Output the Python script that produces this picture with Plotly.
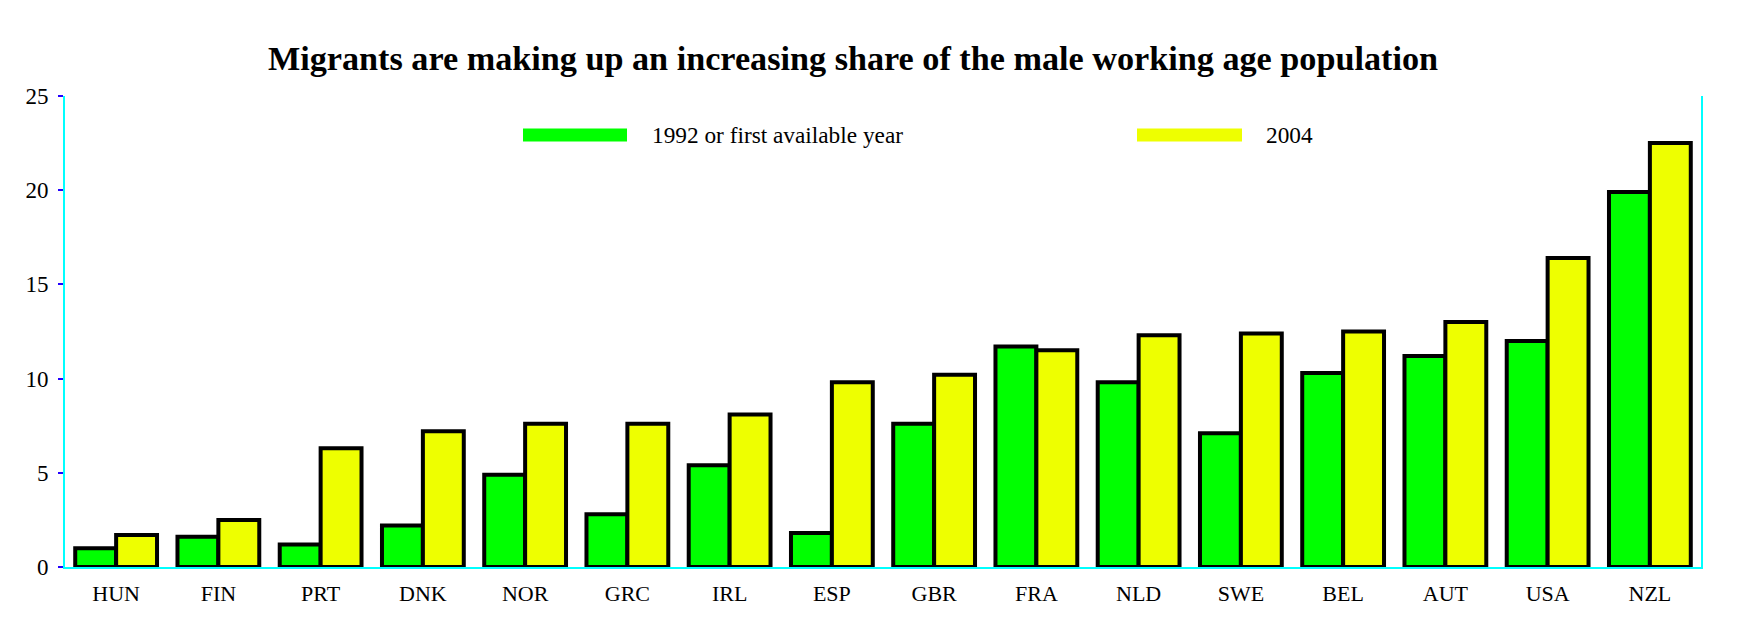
import plotly.graph_objects as go

countries = ["HUN", "FIN", "PRT", "DNK", "NOR", "GRC", "IRL", "ESP",
             "GBR", "FRA", "NLD", "SWE", "BEL", "AUT", "USA", "NZL"]
share_1992 = [1.0, 1.6, 1.2, 2.2, 4.9, 2.8, 5.4, 1.8,
              7.6, 11.7, 9.8, 7.1, 10.3, 11.2, 12.0, 19.9]
share_2004 = [1.7, 2.5, 6.3, 7.2, 7.6, 7.6, 8.1, 9.8,
              10.2, 11.5, 12.3, 12.4, 12.5, 13.0, 16.4, 22.5]
series_names = ["1992 or first available year", "2004"]
y_ticks = [0, 5, 10, 15, 20, 25]

GREEN = "#00FF00"
YELLOW = "#EEFF00"
FONT = "Liberation Serif, Times New Roman, serif"

fig = go.Figure()
fig.add_trace(go.Bar(x=countries, y=share_1992, name=series_names[0],
                     marker=dict(color=GREEN, line=dict(color="black", width=4))))
fig.add_trace(go.Bar(x=countries, y=share_2004, name=series_names[1],
                     marker=dict(color=YELLOW, line=dict(color="black", width=4))))

OFF = 8  # page body margin
W, H = 1739, 635
L, T = 65 - OFF, 96 - OFF
R, B = W - 1701 + OFF, H - 567 + OFF
pw, ph = W - L - R, H - T - B

def px(x):
    return (x - OFF - L) / pw

def py(y):
    return (H - B - (y - OFF)) / ph

shapes = [
    dict(type="rect", xref="paper", yref="paper", x0=px(523), x1=px(627),
         y0=py(141.5), y1=py(128.5), fillcolor=GREEN, line=dict(width=0)),
    dict(type="rect", xref="paper", yref="paper", x0=px(1137), x1=px(1242),
         y0=py(141.5), y1=py(128.5), fillcolor=YELLOW, line=dict(width=0)),
]
annotations = [
    dict(text=series_names[0], xref="paper", yref="paper", x=px(650), y=py(135),
         xanchor="left", yanchor="middle", showarrow=False,
         font=dict(family=FONT, size=23.3, color="black")),
    dict(text=series_names[1], xref="paper", yref="paper", x=px(1264), y=py(135),
         xanchor="left", yanchor="middle", showarrow=False,
         font=dict(family=FONT, size=23.3, color="black")),
]

fig.update_layout(
    width=W, height=H,
    margin=dict(l=L, r=R, t=T, b=B),
    paper_bgcolor="white", plot_bgcolor="white",
    barmode="group", bargap=0.2, bargroupgap=0,
    showlegend=False,
    title=dict(text="<b>Migrants are making up an increasing share of the male working age population</b>",
               x=(853 - OFF) / W, xanchor="center", y=1 - (58 - OFF) / H, yanchor="middle",
               font=dict(family=FONT, size=34.2, color="black")),
    shapes=shapes, annotations=annotations,
    font=dict(family=FONT, color="black"),
)
fig.update_xaxes(showline=True, linecolor="#00FFFF", linewidth=2, ticks="",
                 showgrid=False, layer="below traces", ticklabelstandoff=6,
                 tickfont=dict(family=FONT, size=22, color="black"))
fig.update_yaxes(range=[0, 25], tickvals=y_ticks, showline=True, linecolor="#00FFFF",
                 linewidth=2, mirror=True, ticks="outside", ticklen=5, tickwidth=2,
                 tickcolor="#2200FF", showgrid=False, zeroline=False,
                 layer="below traces", ticklabelstandoff=5,
                 tickfont=dict(family=FONT, size=23, color="black"))

fig.write_html("out.html")
